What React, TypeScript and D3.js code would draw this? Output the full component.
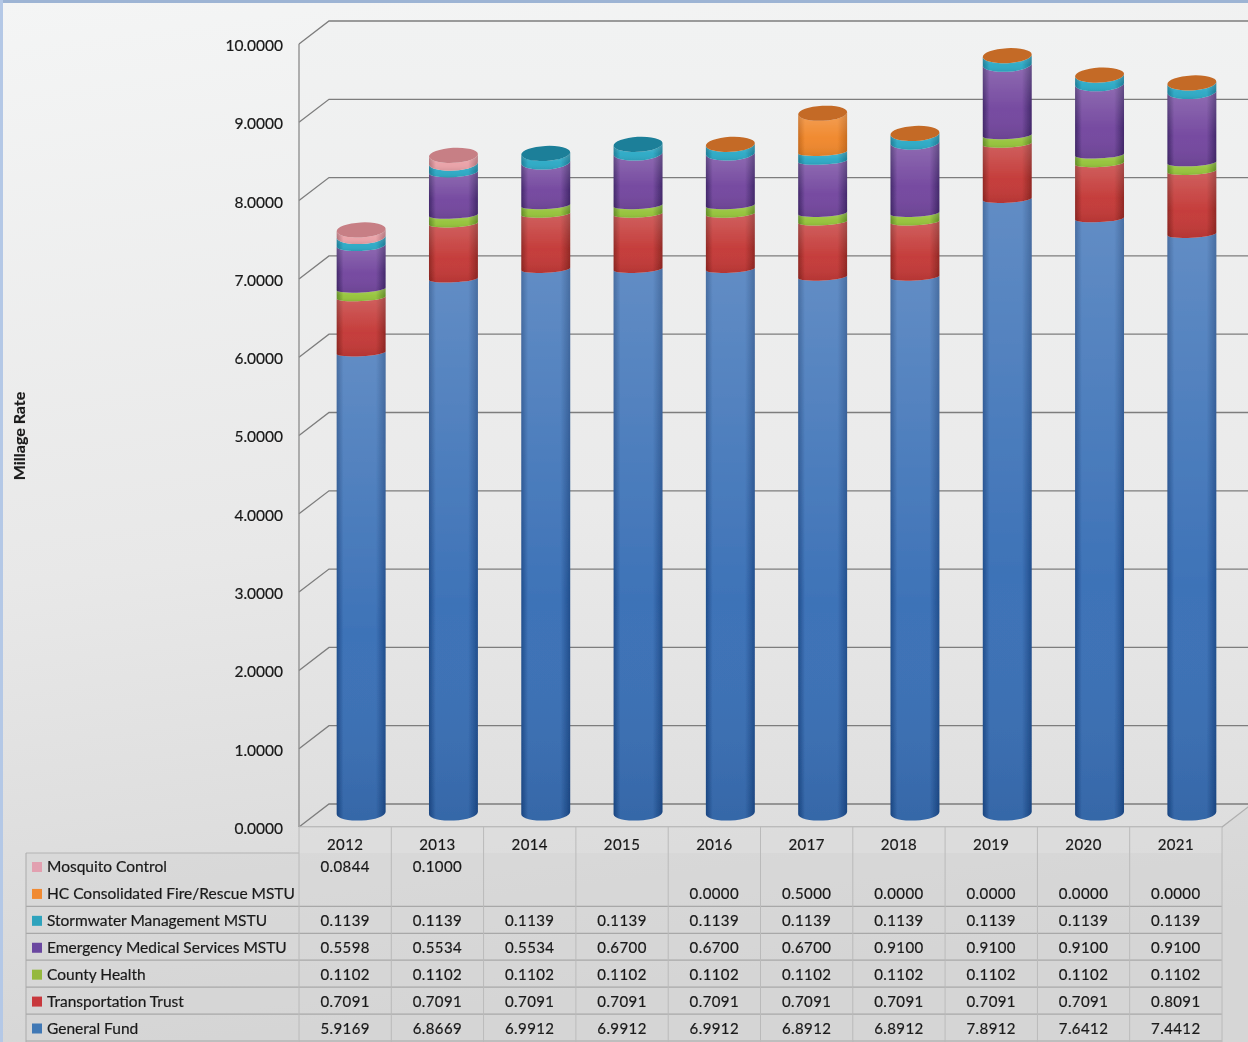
import * as d3 from 'd3'
import { useEffect, useRef } from 'react'

const years = ['2012', '2013', '2014', '2015', '2016', '2017', '2018', '2019', '2020', '2021']
const yTicks = [0, 1, 2, 3, 4, 5, 6, 7, 8, 9, 10]

const generalFund = [5.9169, 6.8669, 6.9912, 6.9912, 6.9912, 6.8912, 6.8912, 7.8912, 7.6412, 7.4412]
const transportation = [0.7091, 0.7091, 0.7091, 0.7091, 0.7091, 0.7091, 0.7091, 0.7091, 0.7091, 0.8091]
const countyHealth = [0.1102, 0.1102, 0.1102, 0.1102, 0.1102, 0.1102, 0.1102, 0.1102, 0.1102, 0.1102]
const ems = [0.5598, 0.5534, 0.5534, 0.67, 0.67, 0.67, 0.91, 0.91, 0.91, 0.91]
const stormwater = [0.1139, 0.1139, 0.1139, 0.1139, 0.1139, 0.1139, 0.1139, 0.1139, 0.1139, 0.1139]
const fireRescue = [null, null, null, null, 0, 0.5, 0, 0, 0, 0]
const mosquito = [0.0844, 0.1, null, null, null, null, null, null, null, null]

// bottom of the stack first
const seriesNames = [
    'General Fund',
    'Transportation Trust',
    'County Health',
    'Emergency Medical Services MSTU',
    'Stormwater Management MSTU',
    'HC Consolidated Fire/Rescue MSTU',
    'Mosquito Control',
]
const seriesValues: (number | null)[][] = [
    generalFund,
    transportation,
    countyHealth,
    ems,
    stormwater,
    fireRescue,
    mosquito,
]
// edge, centre, cap, swatch
const seriesColors = [
    ['#1c4a8a', '#3a70b6', '#3a6ea8', '#3f78b5'],
    ['#8f2420', '#c43a38', '#b03a36', '#c8383c'],
    ['#5f8a22', '#96c43c', '#8ab53a', '#95b93c'],
    ['#3f2468', '#74489f', '#64408c', '#6a46a0'],
    ['#1a7a94', '#2eaac6', '#1f7f99', '#2fa3bd'],
    ['#c8691a', '#f0882c', '#c46a26', '#f08a30'],
    ['#b07078', '#eaa2a8', '#c77f85', '#e2a0b0'],
]

const FONT = 'Lato, Carlito, "Open Sans", sans-serif'

export default function App() {
    const svgRef = useRef<SVGSVGElement>(null)

    useEffect(() => {
        if (!svgRef.current) return
        document.body.style.margin = '0'
        document.body.style.overflow = 'hidden'

        const width = 1248
        const height = 1042
        const svg = d3.select(svgRef.current)
        svg.selectAll('*').remove()

        const defs = svg.append('defs')

        const bg = defs.append('linearGradient').attr('id', 'bg').attr('x1', 0).attr('y1', 0).attr('x2', 0.15).attr('y2', 1)
        bg.append('stop').attr('offset', 0).attr('stop-color', '#f4f5f5')
        bg.append('stop').attr('offset', 0.55).attr('stop-color', '#e8e8e8')
        bg.append('stop').attr('offset', 1).attr('stop-color', '#d6d6d6')

        const wall = defs.append('linearGradient').attr('id', 'wall').attr('x1', 0).attr('y1', 0).attr('x2', 0).attr('y2', 1)
        wall.append('stop').attr('offset', 0).attr('stop-color', '#f1f2f2')
        wall.append('stop').attr('offset', 0.6).attr('stop-color', '#eaeaea')
        wall.append('stop').attr('offset', 1).attr('stop-color', '#dedede')

        const sheen = defs.append('linearGradient').attr('id', 'sheen').attr('x1', 0).attr('y1', 0).attr('x2', 0).attr('y2', 1)
        sheen.append('stop').attr('offset', 0).attr('stop-color', '#fff').attr('stop-opacity', 0.2)
        sheen.append('stop').attr('offset', 0.6).attr('stop-color', '#fff').attr('stop-opacity', 0.02)
        sheen.append('stop').attr('offset', 1).attr('stop-color', '#000').attr('stop-opacity', 0.08)

        seriesColors.forEach((c, i) => {
            const g = defs.append('linearGradient').attr('id', `body-${i}`).attr('x1', 0).attr('x2', 1).attr('y1', 0).attr('y2', 0)
            g.append('stop').attr('offset', 0).attr('stop-color', c[0])
            g.append('stop').attr('offset', 0.14).attr('stop-color', c[1])
            g.append('stop').attr('offset', 0.8).attr('stop-color', c[1])
            g.append('stop').attr('offset', 1).attr('stop-color', c[0])
        })

        defs.append('filter').attr('id', 'soft').append('feGaussianBlur').attr('stdDeviation', 0.6)
        defs.append('filter').attr('id', 'softText').append('feGaussianBlur').attr('stdDeviation', 0.3)

        svg.append('rect').attr('width', width).attr('height', height).attr('fill', 'url(#bg)')
        svg.append('rect').attr('width', width).attr('height', 3).attr('fill', '#9db4d4')
        svg.append('rect').attr('width', 3).attr('height', height).attr('fill', '#b4c8e6')

        // front plane scales
        const x = d3.scaleBand().domain(years).range([299, 1222])
        const y = d3.scaleLinear().domain([0, 10]).range([827, 44])
        // the bars stand in the middle of the floor, a bit behind the front edge
        const barY = d3.scaleLinear().domain([0, 10]).range([813, 35])
        const depthX = 30
        const depthY = -23

        const chart = svg.append('g').attr('filter', 'url(#soft)')

        // back wall
        chart.append('path')
            .attr('d', `M${299},${y(10)}L${299 + depthX},${y(10) + depthY}L${width},${y(10) + depthY}L${width},${y(0) + depthY}L${1222 + depthX},${y(0) + depthY}L${1222},${y(0)}L${299},${y(0)}Z`)
            .attr('fill', 'url(#wall)')

        yTicks.forEach((t) => {
            chart.append('path')
                .attr('d', `M${299},${y(t)}L${299 + depthX},${y(t) + depthY}L${width},${y(t) + depthY}`)
                .attr('fill', 'none')
                .attr('stroke', '#7d7d7d')
                .attr('stroke-width', 1.3)
        })
        chart.append('line').attr('x1', 299).attr('x2', 299).attr('y1', y(10)).attr('y2', y(0)).attr('stroke', '#8a8a8a').attr('stroke-width', 1.3)
        chart.append('path')
            .attr('d', `M${299},${y(0)}L${1222},${y(0)}L${1222 + depthX},${y(0) + depthY}`)
            .attr('fill', 'none')
            .attr('stroke', '#b0b0b0')
            .attr('stroke-width', 1.3)

        // table
        const rowNames = [...seriesNames].reverse()
        const rowValues = [...seriesValues].reverse()
        const rowColors = [...seriesColors].reverse()
        const rowY = d3.scalePoint().domain(rowNames).range([867, 1028.5])
        const rowStep = rowY.step()

        const table = svg.append('g').attr('filter', 'url(#soft)')
        table.append('rect').attr('x', 26).attr('y', 853).attr('width', 1196).attr('height', 189).attr('fill', '#d6d6d6').attr('opacity', 0.55)
        table.append('rect').attr('x', 299).attr('y', 827).attr('width', 923).attr('height', 26).attr('fill', '#dedede').attr('opacity', 0.6)

        rowNames.forEach((name, i) => {
            if (i < 2) return
            const lineY = (rowY(name) as number) - 1 - rowStep / 2
            table.append('line')
                .attr('x1', 26).attr('x2', 1222).attr('y1', lineY).attr('y2', lineY)
                .attr('stroke', '#a8a8a8').attr('stroke-width', 1.2)
        })
        table.append('line').attr('x1', 26).attr('x2', 1222).attr('y1', 1041).attr('y2', 1041).attr('stroke', '#a8a8a8').attr('stroke-width', 1.2)
        table.append('line').attr('x1', 26).attr('x2', 299).attr('y1', 853).attr('y2', 853).attr('stroke', '#b4b4b4')
        const colEdges = [...years.map((yr) => x(yr) as number), 1222]
        colEdges.forEach((cx) => {
            table.append('line')
                .attr('x1', cx).attr('x2', cx).attr('y1', 827).attr('y2', 1042)
                .attr('stroke', '#bababa').attr('stroke-width', 1)
        })
        table.append('line').attr('x1', 26).attr('x2', 26).attr('y1', 853).attr('y2', 1042).attr('stroke', '#ababab')

        // cylinders, bottom segment first
        const stackRows = years.map((yr, i) => {
            const row: Record<string, number | string> = { year: yr }
            seriesNames.forEach((name, s) => {
                row[name] = seriesValues[s][i] ?? 0
            })
            return row
        })
        const stacked = d3.stack<Record<string, number | string>>().keys(seriesNames)(stackRows)

        const rx = 24.5
        const capRy = 7.5
        const tilt = -3
        const tiltRad = (tilt * Math.PI) / 180
        const dx = rx * Math.cos(tiltRad)
        const dy = rx * Math.sin(tiltRad)
        // seams near the top of a bar bend like the cap, lower ones are flatter
        const seamRy = d3.scaleLinear().domain([0.1, 0.3]).range([capRy, 3.6]).clamp(true)

        const bars = svg.append('g').attr('filter', 'url(#soft)')

        years.forEach((yr, i) => {
            const cx = (x(yr) as number) + x.bandwidth() / 2 + 16
            const total = d3.max(stacked, (l) => l[i][1]) as number
            let topIdx = 0
            seriesValues.forEach((vals, s) => {
                if (vals[i] !== null) topIdx = s
            })
            stacked.forEach((layer, s) => {
                const [v0, v1] = layer[i]
                if (v1 - v0 <= 0) return
                const yb = barY(v0)
                const yt = barY(v1)
                const botRy = s === 0 ? capRy : seamRy(total - v0)
                const topRy = seamRy(total - v1)
                const d =
                    `M${cx - dx},${yb - dy}` +
                    `A${rx},${botRy} ${tilt} 0 0 ${cx + dx},${yb + dy}` +
                    `L${cx + dx},${yt + dy}` +
                    `A${rx},${topRy} ${tilt} 0 1 ${cx - dx},${yt - dy}Z`
                bars.append('path').attr('d', d).attr('fill', `url(#body-${s})`)
                bars.append('path').attr('d', d).attr('fill', 'url(#sheen)')
            })
            bars.append('ellipse')
                .attr('cx', cx)
                .attr('cy', barY(total))
                .attr('rx', rx)
                .attr('ry', capRy)
                .attr('transform', `rotate(${tilt} ${cx} ${barY(total)})`)
                .attr('fill', seriesColors[topIdx][2])
        })

        // texts
        const labels = svg.append('g')
            .attr('font-family', FONT)
            .attr('fill', '#1a1a1a')
            .attr('stroke', '#1a1a1a')
            .attr('stroke-width', 0.2)
            .attr('filter', 'url(#softText)')

        yTicks.forEach((t) => {
            labels.append('text')
                .attr('x', 283)
                .attr('y', y(t) + 1.5)
                .attr('dy', '.35em')
                .attr('text-anchor', 'end')
                .attr('font-size', 15.5)
                .text(d3.format('.4f')(t))
        })

        labels.append('text')
            .attr('transform', 'translate(25,436) rotate(-90)')
            .attr('text-anchor', 'middle')
            .attr('font-size', 16)
            .attr('font-weight', 700)
            .text('Millage Rate')

        years.forEach((yr) => {
            labels.append('text')
                .attr('x', (x(yr) as number) + x.bandwidth() / 2)
                .attr('y', 845)
                .attr('dy', '.35em')
                .attr('text-anchor', 'middle')
                .attr('font-size', 15)
                .attr('letter-spacing', 0.4)
                .text(yr)
        })

        rowNames.forEach((name, r) => {
            const ry = rowY(name) as number
            labels.append('rect')
                .attr('x', 32).attr('y', ry - 5).attr('width', 10).attr('height', 10)
                .attr('fill', rowColors[r][3])
                .attr('stroke', 'none')
            labels.append('text')
                .attr('x', 47).attr('y', ry).attr('dy', '.35em')
                .attr('font-size', 15.5)
                .text(name)
            rowValues[r].forEach((v, c) => {
                if (v === null) return
                labels.append('text')
                    .attr('x', (x(years[c]) as number) + x.bandwidth() / 2)
                    .attr('y', ry).attr('dy', '.35em')
                    .attr('text-anchor', 'middle')
                    .attr('font-size', 15)
                    .attr('letter-spacing', 0.4)
                    .text(d3.format('.4f')(v))
            })
        })
    }, [])

    return <svg ref={svgRef} width={1248} height={1042} style={{ display: 'block' }} />
}
